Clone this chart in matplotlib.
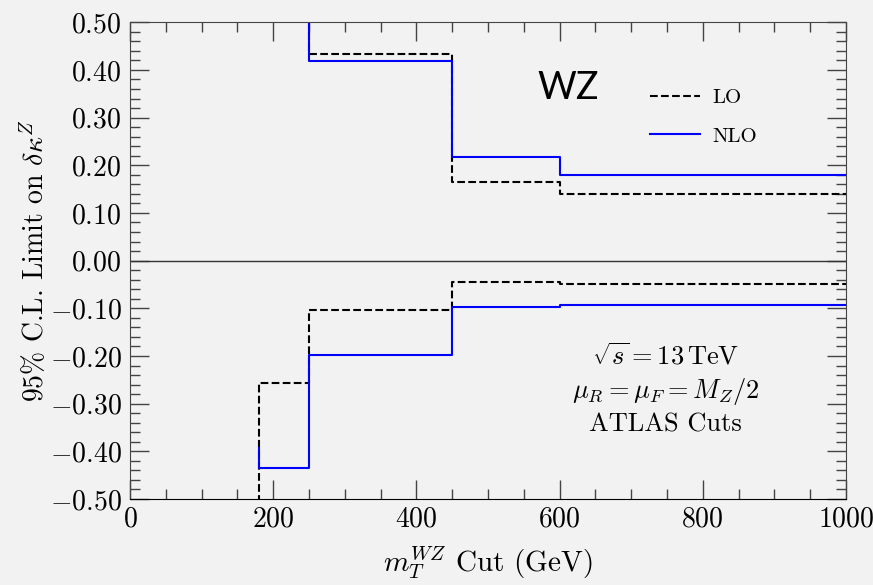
import numpy as np
import matplotlib
matplotlib.use("Agg")
from matplotlib import pyplot as plt
from matplotlib.ticker import MultipleLocator, FuncFormatter

plt.rcParams['font.family'] = 'serif'
plt.rcParams['font.serif'] = ['cmr10', 'DejaVu Serif']
plt.rcParams['mathtext.fontset'] = 'cm'
plt.rcParams['axes.formatter.use_mathtext'] = True

# step edges (GeV cut) and limits
edges_up = [250, 450, 600, 1000]
lo_up = [0.60, 0.434, 0.165, 0.140]
nlo_up = [0.60, 0.418, 0.217, 0.180]

edges_dn = [180, 250, 450, 600, 1000]
lo_dn = [-0.60, -0.257, -0.103, -0.044, -0.048]
nlo_dn = [-0.393, -0.436, -0.199, -0.098, -0.094]

bg = '#f2f2f2'
fig = plt.figure(figsize=(8.73, 5.85), dpi=100, facecolor=bg)
ax = fig.add_axes([0.149, 0.147, 0.820, 0.815], facecolor=bg)

def steps(edges, vals):
    # vertical start, then flat segments between edges
    xs, ys = [edges[0]], [vals[0]]
    for i in range(1, len(vals)):
        xs += [edges[i - 1], edges[i]]
        ys += [vals[i], vals[i]]
    return xs, ys

x1, y1 = steps(edges_up, lo_up)
ax.plot(x1, y1, color='black', ls='--', lw=1.5, label='LO')
x2, y2 = steps(edges_up, nlo_up)
ax.plot(x2, y2, color='blue', lw=1.5, label='NLO')
x3, y3 = steps(edges_dn, lo_dn)
ax.plot(x3, y3, color='black', ls='--', lw=1.5)
x4, y4 = steps(edges_dn, nlo_dn)
ax.plot(x4, y4, color='blue', lw=1.5)

ax.axhline(0, color='#333333', lw=1.0)

ax.set_xlim(0, 1000)
ax.set_ylim(-0.5, 0.5)
ax.xaxis.set_major_locator(MultipleLocator(200))
ax.xaxis.set_minor_locator(MultipleLocator(50))
ax.yaxis.set_major_locator(MultipleLocator(0.1))
ax.yaxis.set_minor_locator(MultipleLocator(0.02))
ax.xaxis.set_major_formatter(FuncFormatter(lambda v, p: '$%d$' % v))
ax.yaxis.set_major_formatter(FuncFormatter(lambda v, p: '$%.2f$' % v))
ax.tick_params(which='both', direction='in', top=True, right=True, labelsize=20, color='#444444')
ax.tick_params(which='major', length=14, width=1.0)
ax.tick_params(which='minor', length=7, width=1.0)
ax.tick_params(axis='x', pad=5)
ax.tick_params(axis='y', pad=6)
for s in ax.spines.values():
    s.set_color('#444444')
ax.spines['bottom'].set_color('black')

ax.set_xlabel(r'$m_T^{WZ}$ Cut (GeV)', fontsize=21, labelpad=9)
ax.set_ylabel(r'95% C.L. Limit on $\delta\kappa^Z$', fontsize=20, labelpad=0)

ax.text(0.612, 0.862, 'WZ', transform=ax.transAxes, fontsize=27, family='Lato',
        ha='center', va='center')
ax.text(0.748, 0.23, r'$\sqrt{s} = 13\,\mathrm{TeV}$' + '\n' + r'$\mu_R = \mu_F = M_Z/2$' + '\n' + 'ATLAS Cuts',
        transform=ax.transAxes, fontsize=19, ha='center', va='center', linespacing=1.3)

ax.legend(loc='upper left', bbox_to_anchor=(0.7, 0.9), frameon=False, fontsize=15,
          handlelength=2.4, labelspacing=0.95, handletextpad=0.6)

fig.savefig('out.png', dpi=100, facecolor=bg)
